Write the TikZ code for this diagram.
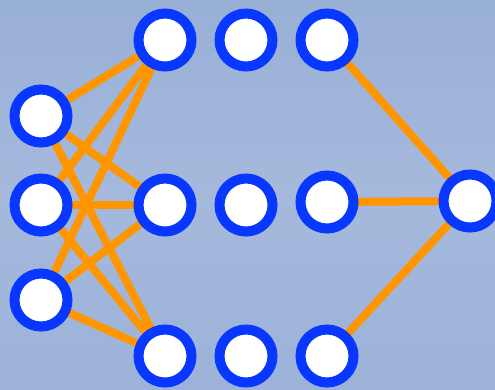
\documentclass[tikz,border=0pt]{standalone}
\usetikzlibrary{backgrounds}
\pgfdeclarelayer{edgelayer}
\pgfsetlayers{background,edgelayer,main}
\definecolor{ringblue}{RGB}{8,56,255}
\definecolor{linkorange}{RGB}{255,150,0}
\definecolor{skytop}{RGB}{152,175,214}
\definecolor{skymid}{RGB}{165,185,220}
\definecolor{skybot}{RGB}{156,178,216}
\tikzset{
  neuron/.style={circle, draw=ringblue, fill=white, line width=10pt,
                 minimum size=53pt, inner sep=0pt},
  link/.style={draw=linkorange, line width=8pt}
}
\begin{document}
\begin{tikzpicture}[x=1pt,y=-1pt]
  % canvas
  \useasboundingbox (0,0) rectangle (495,389);
  \begin{scope}[on background layer]
    \shade[top color=skytop, bottom color=skybot, middle color=skymid]
      (0,0) rectangle (495,389);
  \end{scope}

  % input layer
  \node[neuron] (i1) at (41,116) {};
  \node[neuron] (i2) at (41,205) {};
  \node[neuron] (i3) at (41,300) {};
  % first hidden layer
  \node[neuron] (h1) at (165,40) {};
  \node[neuron] (h2) at (165,205) {};
  \node[neuron] (h3) at (165,356) {};
  % second hidden layer
  \node[neuron] (m1) at (246,40) {};
  \node[neuron] (m2) at (246,205) {};
  \node[neuron] (m3) at (246,356) {};
  % third hidden layer
  \node[neuron] (l1) at (327,40) {};
  \node[neuron] (l2) at (327,202) {};
  \node[neuron] (l3) at (327,356) {};
  % output
  \node[neuron] (o) at (470,201) {};

  % connections, drawn beneath the neurons
  \begin{pgfonlayer}{edgelayer}
    \foreach \a in {i1,i2,i3}
      \foreach \b in {h1,h2,h3}
        \path[link] (\a.center) -- (\b.center);
    \foreach \a in {l1,l2,l3}
      \path[link] (\a.center) -- (o.center);
  \end{pgfonlayer}
\end{tikzpicture}
\end{document}
